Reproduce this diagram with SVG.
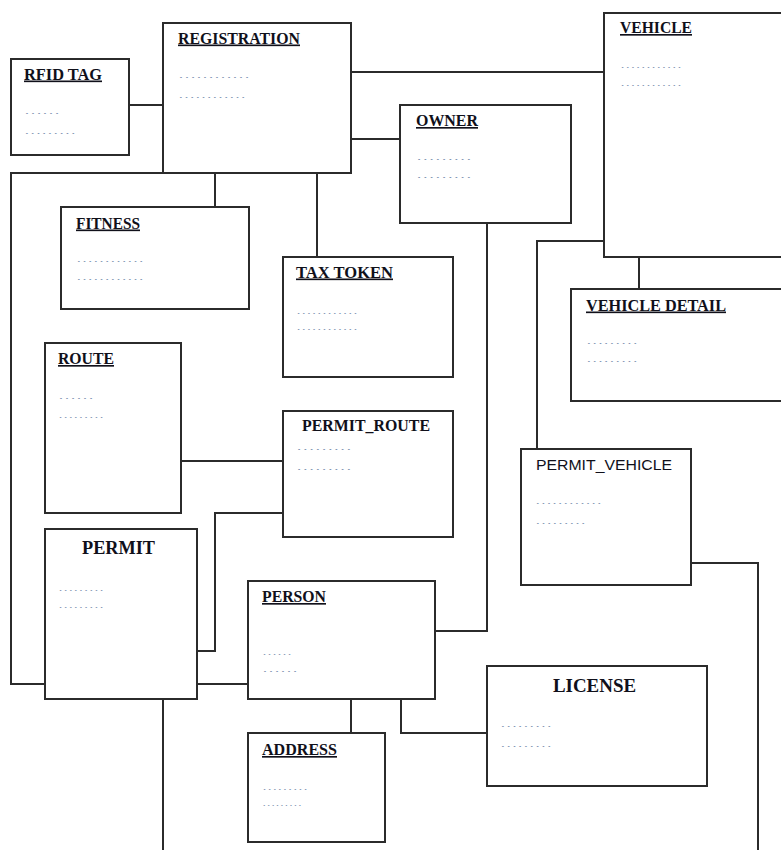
<svg xmlns="http://www.w3.org/2000/svg" width="781" height="850" viewBox="0 0 781 850">
<style>
.box{fill:#fff;stroke:#2b2b2b;stroke-width:2}
.conn path{fill:none;stroke:#2b2b2b;stroke-width:2}
.t{font-family:"Liberation Serif","Times New Roman",serif;font-weight:bold;font-size:16.5px;fill:#10101a;text-decoration:underline;text-decoration-thickness:2px;text-underline-offset:3px}
.tb{font-family:"Liberation Serif","Times New Roman",serif;font-weight:bold;font-size:19px;fill:#10101a}
.tn{font-family:"Liberation Serif","Times New Roman",serif;font-weight:bold;font-size:16.5px;fill:#10101a}
.ts{font-family:"Liberation Sans",Arial,sans-serif;font-size:15.5px;fill:#10101a}
.d{font-family:"Liberation Serif","Times New Roman",serif;font-size:8px;fill:#6f86a8}
</style>
<rect width="781" height="850" fill="#fff"/>
<g id="connectors" class="conn">
<path d="M129 105H163"/>
<path d="M351 72H604"/>
<path d="M351 139H400"/>
<path d="M215 173V207"/>
<path d="M317 173V257"/>
<path d="M163 173H11V684H45"/>
<path d="M639 257V289"/>
<path d="M604 241H537V449"/>
<path d="M487 223V631H435"/>
<path d="M181 461H283"/>
<path d="M197 651H215V513H283"/>
<path d="M197 684H248"/>
<path d="M163 699V850"/>
<path d="M351 699V733"/>
<path d="M401 699V733H487"/>
<path d="M691 563H758V850"/>
</g>
<g id="rfid_tag"><rect class="box" x="11" y="59" width="118" height="96"/>
<text class="t" x="24" y="79.5" textLength="78" lengthAdjust="spacingAndGlyphs">RFID TAG</text>
<text class="d" x="24" y="113.5" textLength="36" lengthAdjust="spacingAndGlyphs">……</text>
<text class="d" x="24" y="133.5" textLength="52" lengthAdjust="spacingAndGlyphs">………</text></g>
<g id="registration"><rect class="box" x="163" y="23" width="188" height="150"/>
<text class="t" x="178" y="43.5" textLength="122" lengthAdjust="spacingAndGlyphs">REGISTRATION</text>
<text class="d" x="178" y="77.5" textLength="72" lengthAdjust="spacingAndGlyphs">…………</text>
<text class="d" x="178" y="97.5" textLength="68" lengthAdjust="spacingAndGlyphs">…………</text></g>
<g id="vehicle"><rect class="box" x="604" y="13" width="200" height="244"/>
<text class="t" x="620" y="33" textLength="72" lengthAdjust="spacingAndGlyphs">VEHICLE</text>
<text class="d" x="620" y="67.5" textLength="62" lengthAdjust="spacingAndGlyphs">…………</text>
<text class="d" x="620" y="85.5" textLength="62" lengthAdjust="spacingAndGlyphs">…………</text></g>
<g id="owner"><rect class="box" x="400" y="105" width="171" height="118"/>
<text class="t" x="416" y="126" textLength="62" lengthAdjust="spacingAndGlyphs">OWNER</text>
<text class="d" x="416" y="159.5" textLength="56" lengthAdjust="spacingAndGlyphs">………</text>
<text class="d" x="416" y="177.5" textLength="56" lengthAdjust="spacingAndGlyphs">………</text></g>
<g id="fitness"><rect class="box" x="61" y="207" width="188" height="102"/>
<text class="t" x="76" y="228.5" textLength="64" lengthAdjust="spacingAndGlyphs">FITNESS</text>
<text class="d" x="76" y="261.5" textLength="68" lengthAdjust="spacingAndGlyphs">…………</text>
<text class="d" x="76" y="279.5" textLength="68" lengthAdjust="spacingAndGlyphs">…………</text></g>
<g id="tax_token"><rect class="box" x="283" y="257" width="170" height="120"/>
<text class="t" x="296" y="277.5" textLength="97" lengthAdjust="spacingAndGlyphs">TAX  TOKEN</text>
<text class="d" x="296" y="313.5" textLength="62" lengthAdjust="spacingAndGlyphs">…………</text>
<text class="d" x="296" y="329.5" textLength="62" lengthAdjust="spacingAndGlyphs">…………</text></g>
<g id="vehicle_detail"><rect class="box" x="571" y="289" width="230" height="112"/>
<text class="t" x="586" y="310.5" textLength="140" lengthAdjust="spacingAndGlyphs">VEHICLE  DETAIL</text>
<text class="d" x="586" y="343.5" textLength="52" lengthAdjust="spacingAndGlyphs">………</text>
<text class="d" x="586" y="361.5" textLength="52" lengthAdjust="spacingAndGlyphs">………</text></g>
<g id="route"><rect class="box" x="45" y="343" width="136" height="170"/>
<text class="t" x="58" y="364" textLength="56" lengthAdjust="spacingAndGlyphs">ROUTE</text>
<text class="d" x="58" y="398.5" textLength="36" lengthAdjust="spacingAndGlyphs">……</text>
<text class="d" x="58" y="417.5" textLength="46" lengthAdjust="spacingAndGlyphs">………</text></g>
<g id="permit_route"><rect class="box" x="283" y="411" width="170" height="126"/>
<text class="tn" x="302" y="431" textLength="128" lengthAdjust="spacingAndGlyphs">PERMIT_ROUTE</text>
<text class="d" x="296" y="449.5" textLength="56" lengthAdjust="spacingAndGlyphs">………</text>
<text class="d" x="296" y="469.5" textLength="56" lengthAdjust="spacingAndGlyphs">………</text></g>
<g id="permit_vehicle"><rect class="box" x="521" y="449" width="170" height="136"/>
<text class="ts" x="536" y="470" textLength="136" lengthAdjust="spacingAndGlyphs">PERMIT_VEHICLE</text>
<text class="d" x="535" y="503.5" textLength="67" lengthAdjust="spacingAndGlyphs">…………</text>
<text class="d" x="535" y="523.5" textLength="51" lengthAdjust="spacingAndGlyphs">………</text></g>
<g id="permit"><rect class="box" x="45" y="529" width="152" height="170"/>
<text class="tb" x="82" y="554" textLength="73" lengthAdjust="spacingAndGlyphs">PERMIT</text>
<text class="d" x="58" y="590.5" textLength="46" lengthAdjust="spacingAndGlyphs">………</text>
<text class="d" x="58" y="608" textLength="46" lengthAdjust="spacingAndGlyphs">………</text></g>
<g id="person"><rect class="box" x="248" y="581" width="187" height="118"/>
<text class="t" x="262" y="602" textLength="64" lengthAdjust="spacingAndGlyphs">PERSON</text>
<text class="d" x="262" y="654.5" textLength="30" lengthAdjust="spacingAndGlyphs">……</text>
<text class="d" x="262" y="672" textLength="36" lengthAdjust="spacingAndGlyphs">……</text></g>
<g id="license"><rect class="box" x="487" y="666" width="220" height="120"/>
<text class="tb" x="553" y="692" textLength="83" lengthAdjust="spacingAndGlyphs">LICENSE</text>
<text class="d" x="500" y="726.5" textLength="52" lengthAdjust="spacingAndGlyphs">………</text>
<text class="d" x="500" y="746.5" textLength="52" lengthAdjust="spacingAndGlyphs">………</text></g>
<g id="address"><rect class="box" x="248" y="733" width="137" height="109"/>
<text class="t" x="262" y="755" textLength="75" lengthAdjust="spacingAndGlyphs">ADDRESS</text>
<text class="d" x="262" y="789.5" textLength="46" lengthAdjust="spacingAndGlyphs">………</text>
<text class="d" x="262" y="806" textLength="40" lengthAdjust="spacingAndGlyphs">………</text></g>
</svg>
